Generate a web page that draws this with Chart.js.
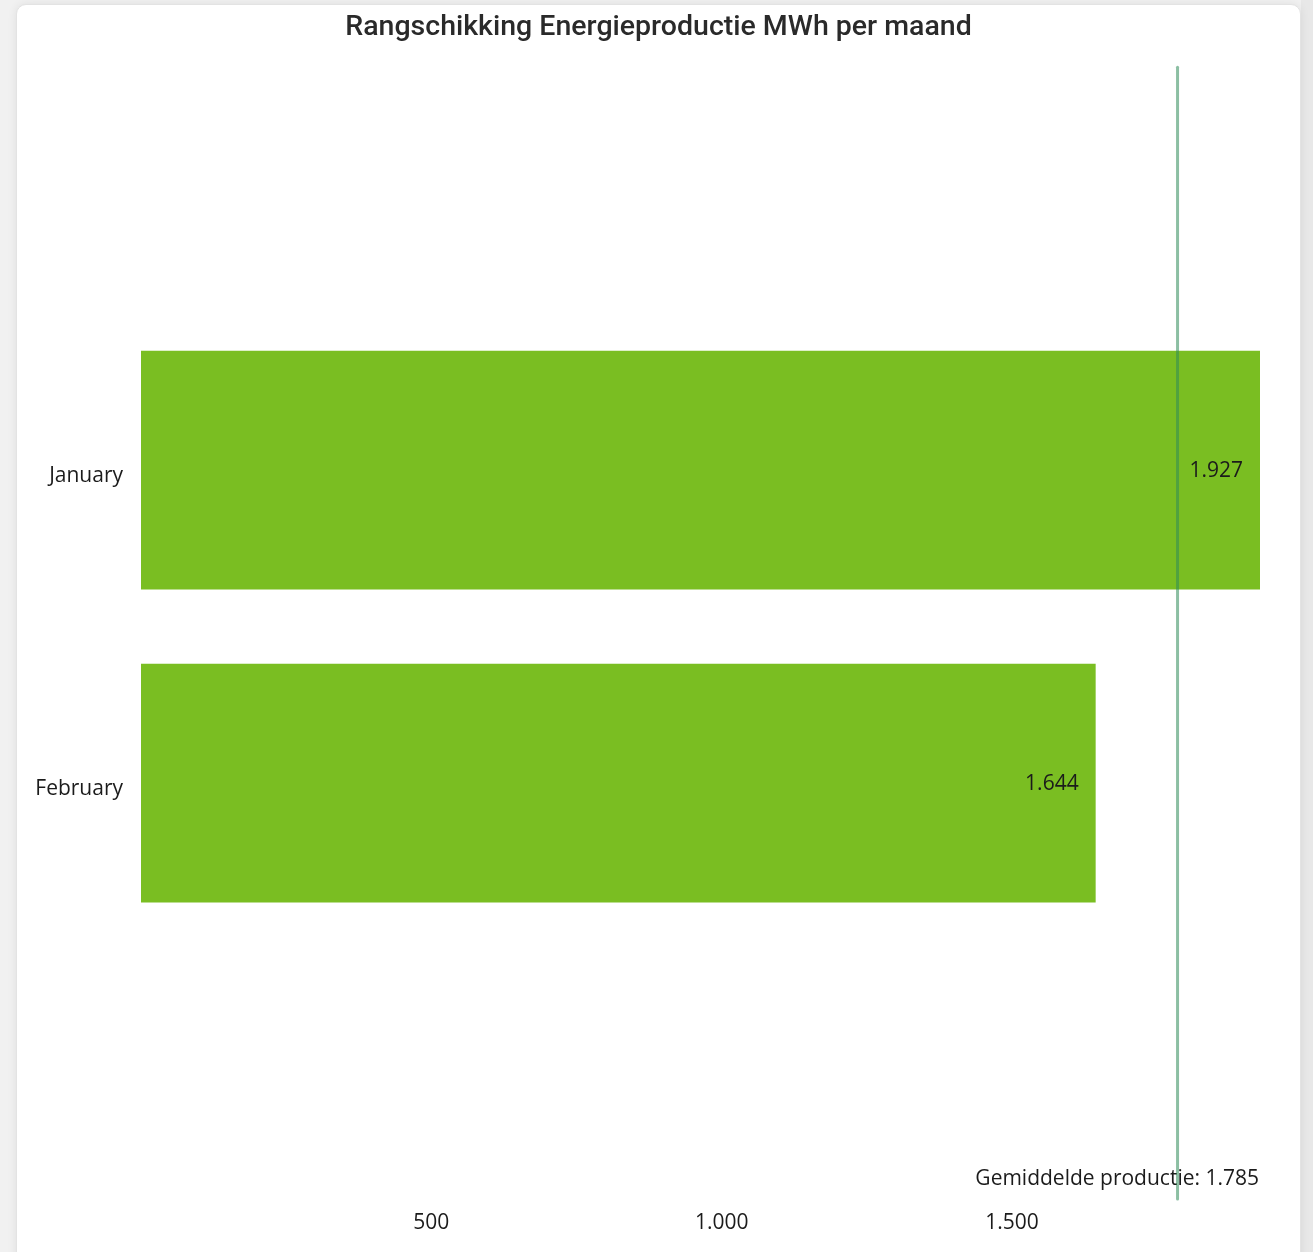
<!DOCTYPE html>
<html>
<head>
<meta charset="utf-8">
<script src="https://cdn.jsdelivr.net/npm/chart.js@4.4.1/dist/chart.umd.min.js"></script>
<style>
  html, body { margin: 0; padding: 0; background: #f1f1f1; width: 1313px; height: 1252px; overflow: hidden; }
  #card { position: absolute; left: 16px; top: 4px; width: 1283px; height: 1300px; background: #fff;
          border: 1px solid #e3e3e3; border-radius: 10px; box-shadow: 0 0 10px rgba(0,0,0,0.08); }
  #card canvas { position: absolute; left: 0; top: 0; }
  #rightgap { position: absolute; left: 1301px; top: 0; width: 12px; height: 1252px; background: #e8e8e8; }
</style>
</head>
<body>
<div id="rightgap"></div>
<div id="card"><canvas id="c" width="1283" height="1247"></canvas></div>
<script>
const categories = ['January', 'February'];
const production = [1927, 1644];
const averageProduction = 1785;
const xTicks = [500, 1000, 1500];
const chartTitle = 'Rangschikking Energieproductie MWh per maand';
const averageLabel = 'Gemiddelde productie: ';

function fmt(v) {
  return String(Math.round(v)).replace(/\B(?=(\d{3})+(?!\d))/g, '.');
}

const labelFont = '"Open Sans", sans-serif';
const labelSize = 21;

const valueLabels = {
  id: 'valueLabels',
  afterDatasetsDraw(chart) {
    const ctx = chart.ctx;
    const meta = chart.getDatasetMeta(0);
    ctx.save();
    ctx.font = labelSize + 'px ' + labelFont;
    ctx.fillStyle = '#1b1b1b';
    ctx.textAlign = 'right';
    ctx.textBaseline = 'middle';
    meta.data.forEach((bar, i) => {
      ctx.fillText(fmt(production[i]), bar.x - 17, bar.y + 1);
    });
    ctx.restore();
  }
};

const averageLine = {
  id: 'averageLine',
  afterDatasetsDraw(chart) {
    const ctx = chart.ctx;
    const area = chart.chartArea;
    const x = chart.scales.x.getPixelForValue(averageProduction);
    ctx.save();
    ctx.font = labelSize + 'px ' + labelFont;
    ctx.fillStyle = '#1b1b1b';
    ctx.textAlign = 'right';
    ctx.textBaseline = 'middle';
    ctx.fillText(averageLabel + fmt(averageProduction), area.right - 1, area.bottom - 21);
    ctx.strokeStyle = 'rgba(46,139,87,0.55)';
    ctx.lineWidth = 3;
    ctx.lineCap = 'round';
    ctx.beginPath();
    ctx.moveTo(x, area.top + 1);
    ctx.lineTo(x, area.bottom - 1);
    ctx.stroke();
    ctx.restore();
  }
};

new Chart(document.getElementById('c'), {
  type: 'bar',
  data: {
    labels: categories,
    datasets: [{
      data: production,
      backgroundColor: '#7abe22',
      borderWidth: 0,
      categoryPercentage: 0.763,
      barPercentage: 1
    }]
  },
  options: {
    indexAxis: 'y',
    responsive: false,
    animation: false,
    devicePixelRatio: 1,
    layout: { padding: { left: 0, right: 0, top: 4, bottom: 0 } },
    plugins: {
      legend: { display: false },
      tooltip: { enabled: false },
      title: {
        display: true,
        text: chartTitle,
        color: '#2a2a2a',
        font: { family: 'Roboto, sans-serif', size: 28.5, weight: '500' },
        padding: { top: 2, bottom: 21 }
      }
    },
    scales: {
      x: {
        type: 'linear',
        min: 0,
        max: 1927,
        grid: { display: false, drawTicks: false },
        border: { display: false },
        afterBuildTicks(scale) {
          scale.ticks = xTicks.map(v => ({ value: v }));
        },
        ticks: {
          color: '#1b1b1b',
          font: { family: labelFont, size: labelSize },
          padding: 10,
          callback: v => fmt(v)
        },
        afterFit(scale) { scale.height = 52; }
      },
      y: {
        type: 'category',
        grid: { display: false, drawTicks: false },
        border: { display: false },
        ticks: {
          color: '#1b1b1b',
          font: { family: labelFont, size: labelSize },
          padding: 18,
          labelOffset: 6
        },
        afterFit(scale) { scale.width = 124; },
        afterBuildTicks(scale) {
          // place the two categories inside the taller plot area
          scale._startValue = -1.291;
          scale._valueRange = 3.623;
        }
      },
      rightSpace: {
        type: 'linear',
        position: 'right',
        display: true,
        grid: { display: false, drawTicks: false },
        border: { display: false },
        ticks: { display: false },
        afterFit(scale) { scale.width = 40; }
      }
    }
  },
  plugins: [valueLabels, averageLine]
});
</script>
</body>
</html>
